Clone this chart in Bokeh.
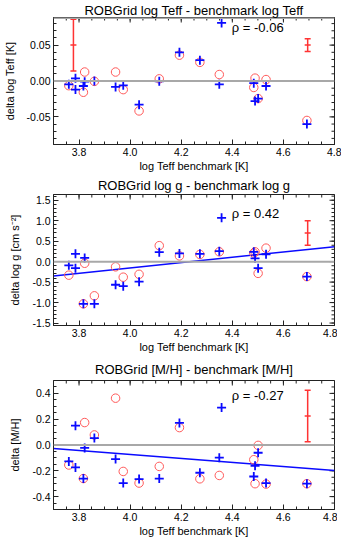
import math
from bokeh.plotting import figure
from bokeh.layouts import column
from bokeh.models import Range1d, FixedTicker, PrintfTickFormatter, Span, Label
from bokeh.embed import file_html
from bokeh.resources import INLINE

nan = float("nan")

# benchmark log Teff of each star
teff = [3.760, 3.786, 3.786, 3.817, 3.822, 3.860, 3.943, 3.973, 4.035, 4.114,
        4.193, 4.273, 4.349, 4.358, 4.484, 4.489, 4.501, 4.532, 4.692]

# panel 1: delta log Teff
dteff_blue = [-0.0046, 0.0037, -0.012, -0.007, -0.001, 0.000, -0.0083, -0.006, -0.033, -0.0005,
              0.040, 0.029, -0.0046, 0.081, -0.003, -0.028, -0.0245, -0.007, -0.060]
dteff_red = [-0.0065, nan, nan, -0.0157, 0.0125, -0.0005, 0.0125, -0.012, -0.0417, 0.003,
             0.036, 0.026, 0.009, nan, -0.009, 0.004, -0.0245, 0.002, -0.055]

# panel 2: delta log g
dlogg_blue = [-0.09, 0.19, -0.16, -1.03, 0.09, -1.03, -0.565, -0.60, -0.49, 0.23,
              0.20, 0.19, 0.255, 1.07, 0.24, 0.08, -0.16, 0.18, -0.366]
dlogg_red = [-0.33, nan, nan, -1.03, -0.04, -0.835, -0.127, -0.38, -0.31, 0.39,
             0.14, 0.175, 0.24, nan, 0.21, 0.24, -0.286, 0.33, -0.366]

# panel 3: delta [M/H]
dmh_blue = [-0.127, 0.150, -0.174, -0.26, -0.023, 0.054, -0.109, -0.295, -0.264, -0.26,
            0.171, -0.215, -0.098, 0.29, -0.244, -0.161, -0.06, -0.295, -0.30]
dmh_red = [-0.155, nan, nan, -0.26, 0.174, 0.078, 0.363, -0.205, -0.295, -0.166,
           0.135, -0.262, -0.236, nan, -0.114, -0.30, -0.003, -0.303, -0.30]

# typical error bars (x, centre, half-length)
err1_x = [3.778, 4.695]
err1_y = [0.050, 0.050]
err1_e = [0.036, 0.0088]
err2_x = [4.695]
err2_y = [0.70]
err2_e = [0.30]
err3_x = [4.695]
err3_y = [0.225]
err3_e = [0.20]

# linear fits (end points)
fit_x = [3.7, 4.8]
fit2_y = [-0.35, 0.366]
fit3_y = [-0.028, -0.197]

rho = ["ρ = -0.06", "ρ =  0.42", "ρ = -0.27"]

titles = ["ROBGrid log Teff - benchmark log Teff",
          "ROBGrid log g - benchmark log g",
          "ROBGrid [M/H] - benchmark [M/H]"]
ylabels = ["delta log Teff [K]", "delta log g [cm s⁻²]", "delta [M/H]"]
xlabel = "log Teff benchmark [K]"

x_ticks = [3.8, 4.0, 4.2, 4.4, 4.6, 4.8]

FONT = "Liberation Sans"
BLUE = "#0a0aff"
RED = "#ff5a5a"
ERR = "#ff3333"
AX = "#222222"


def frange(a, b, s):
    n = int(round((b - a) / s))
    return [round(a + i * s, 6) for i in range(n + 1)]


X0, X1 = 3.7, 4.8
x_minor = frange(3.7, 4.8, 0.05)


def make_panel(idx, yr, yticks, yminor, yfmt, blue, red, ex, ey, ee, fit_y,
               rho_y, frame_h, standoff, top_gray=False):
    p = figure(frame_width=281, frame_height=frame_h, x_range=Range1d(X0, X1),
               y_range=Range1d(*yr), output_backend="svg", toolbar_location=None,
               min_border_left=49, min_border_right=7, min_border_top=0,
               min_border_bottom=0)
    p.title.text = titles[idx]
    p.title.align = "center"
    p.title.text_font = FONT
    p.title.text_font_size = "13px"
    p.title.text_font_style = "normal"
    p.title.text_color = "black"
    p.title.standoff = standoff
    p.grid.visible = False
    p.outline_line_color = AX
    p.outline_line_width = 1
    p.background_fill_color = "white"
    p.border_fill_color = "white"

    xt = FixedTicker(ticks=x_ticks, minor_ticks=x_minor)
    yt = FixedTicker(ticks=yticks, minor_ticks=yminor)

    for ax in [p.xaxis[0], p.yaxis[0]]:
        ax.major_tick_in = 5
        ax.major_tick_out = 0
        ax.minor_tick_in = 3
        ax.minor_tick_out = 0
        ax.axis_line_color = AX
        ax.major_tick_line_color = AX
        ax.minor_tick_line_color = AX
        ax.major_label_text_font = FONT
        ax.major_label_text_font_size = "10.5px"
        ax.major_label_text_color = "black"
        ax.axis_label_text_font = FONT
        ax.axis_label_text_font_size = "11px"
        ax.axis_label_text_font_style = "normal"
        ax.axis_label_text_color = "black"
    p.xaxis[0].ticker = xt
    p.xaxis[0].formatter = PrintfTickFormatter(format="%.1f")
    p.xaxis[0].axis_label = xlabel
    p.xaxis[0].major_label_standoff = 3
    p.xaxis[0].axis_label_standoff = 1
    p.xaxis[0].major_label_text_line_height = 1.0
    p.xaxis[0].axis_label_text_line_height = 1.0
    p.yaxis[0].ticker = yt
    p.yaxis[0].formatter = PrintfTickFormatter(format=yfmt)
    p.yaxis[0].axis_label = ylabels[idx]
    p.yaxis[0].major_label_standoff = 3
    p.yaxis[0].axis_label_standoff = 8

    # top and right box ticks (half of each dash lies outside the frame and is clipped)
    p.scatter(x_ticks, [yr[1]] * len(x_ticks), marker="dash", angle=math.pi / 2, size=10,
              line_color=AX, line_width=1)
    p.scatter(x_minor, [yr[1]] * len(x_minor), marker="dash", angle=math.pi / 2, size=6,
              line_color=AX, line_width=1)
    p.scatter([X1] * len(yticks), yticks, marker="dash", size=10, line_color=AX, line_width=1)
    p.scatter([X1] * len(yminor), yminor, marker="dash", size=6, line_color=AX, line_width=1)
    if top_gray:
        p.add_layout(Span(location=yr[1], dimension="width", line_color="#aaaaaa",
                          line_width=3))

    p.add_layout(Span(location=0, dimension="width", line_color="#a8a8a8", line_width=2))

    if fit_y is not None:
        p.line(fit_x, fit_y, line_color=BLUE, line_width=1.5)

    p.scatter(teff, red, marker="circle", size=8.5, fill_color=None,
              line_color=RED, line_width=1)
    p.scatter(teff, blue, marker="cross", size=9, line_color=BLUE, line_width=1.8)

    lo = [c - e for c, e in zip(ey, ee)]
    hi = [c + e for c, e in zip(ey, ee)]
    p.segment(x0=ex, y0=lo, x1=ex, y1=hi, line_color=ERR, line_width=1.5)
    p.scatter(ex + ex + ex, lo + ey + hi, marker="dash", size=6, line_color=ERR,
              line_width=1.5)

    p.add_layout(Label(x=4.398, y=rho_y, text=rho[idx], text_baseline="middle",
                       text_align="left", text_font=FONT, text_font_size="13px",
                       text_color="black"))
    return p


p1 = make_panel(0, (-0.0885, 0.0885), [-0.05, 0.0, 0.05], frange(-0.08, 0.08, 0.01), "%.2f",
                dteff_blue, dteff_red, err1_x, err1_y, err1_e, None, 0.0744,
                127, 0, top_gray=True)
p2 = make_panel(1, (-1.56, 1.64), frange(-1.5, 1.5, 0.5), frange(-1.5, 1.6, 0.1), "%.1f",
                dlogg_blue, dlogg_red, err2_x, err2_y, err2_e, fit2_y, 1.18,
                131, 3)
p3 = make_panel(2, (-0.5, 0.5), frange(-0.4, 0.4, 0.2), frange(-0.45, 0.45, 0.05), "%.1f",
                dmh_blue, dmh_red, err3_x, err3_y, err3_e, fit3_y, 0.385,
                129, 8)

layout = column(p1, p2, p3, spacing=0)
open("out.html", "w").write(file_html(layout, INLINE))
